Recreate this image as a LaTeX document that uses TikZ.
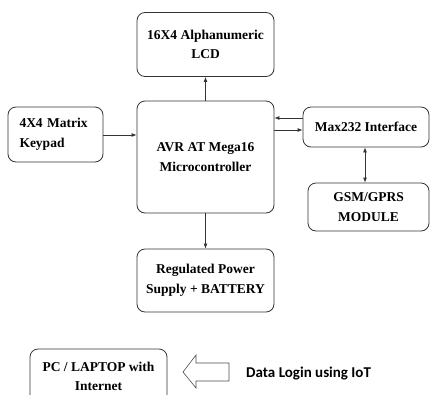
\documentclass[tikz,border=0pt]{standalone}
\usepackage{fontspec}
\setmainfont{Liberation Serif}
\newfontfamily\calib{Carlito}
\usetikzlibrary{arrows.meta}
\begin{document}
\begin{tikzpicture}[x=1pt,y=-1pt,
  blk/.style={draw=black!80, line width=0.8pt, rounded corners=8pt, align=center,
    font=\fontsize{13.5}{19.5}\selectfont\bfseries, inner sep=0pt},
  conn/.style={draw=black!80, line width=0.8pt, -{Latex[length=5pt,width=4pt]}},
  bconn/.style={draw=black!80, line width=0.8pt, {Latex[length=5pt,width=4pt]}-{Latex[length=5pt,width=4pt]}}]
\useasboundingbox (0,0) rectangle (430,394);
\node[blk, minimum width=137, minimum height=64] (lcd) at (205.5,44.5) {16X4 Alphanumeric\\LCD};
\node[blk, minimum width=95, minimum height=55, align=left, text width=72, inner xsep=11.5] (key) at (55.5,134.5) {\hyphenpenalty=10000 4X4 Matrix\\Keypad};
\node[blk, minimum width=137, minimum height=112] (mcu) at (205.5,157) {AVR AT Mega16\\Microcontroller};
\node[blk, minimum width=126, minimum height=40] (max) at (366,127) {Max232 Interface};
\node[blk, minimum width=121, minimum height=48] (gsm) at (368.5,207) {GSM/GPRS\\MODULE};
\node[blk, minimum width=137, minimum height=63] (pwr) at (205.5,280.5) {Regulated Power\\Supply + BATTERY};
\node[blk, minimum width=137, minimum height=55] (pc) at (98.5,376.5) {PC / LAPTOP with\\Internet};
\draw[conn] (mcu.north) -- (lcd.south);
\draw[conn] (key.east |- 0,135) -- (mcu.west |- 0,135);
\draw[conn] (max.west |- 0,118) -- (mcu.east |- 0,118);
\draw[conn] (mcu.east |- 0,130) -- (max.west |- 0,130);
\draw[bconn] (max.south -| 365,0) -- (gsm.north -| 365,0);
\draw[conn] (mcu.south) -- (pwr.north);
\draw[draw=black!70, line width=0.6pt] (183,372) -- (196,355) -- (196,363) -- (229,363) -- (229,381) -- (196,381) -- (196,388) -- cycle;
\node[anchor=west, font=\calib\fontsize{15}{18}\selectfont\bfseries, inner sep=0pt] (dl) at (246,373) {Data Login using IoT};
\end{tikzpicture}
\end{document}
